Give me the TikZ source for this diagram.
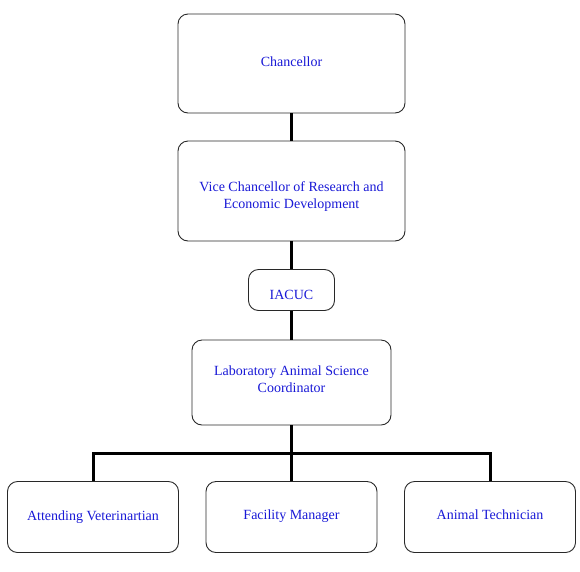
\documentclass[tikz,border=0pt]{standalone}
\usepackage{fontspec}
\setmainfont{Liberation Serif}
\definecolor{txtblue}{RGB}{25,25,215}
\definecolor{boxgray}{RGB}{40,40,40}
% shift the text of a box up by #1 (negative: down)
\newcommand{\liftup}[2]{\raisebox{0pt}[\dimexpr\height-#1\relax][\dimexpr\depth+#1\relax]{\begin{tabular}{@{}c@{}}#2\end{tabular}}}
\begin{document}
\begin{tikzpicture}[x=1pt,y=-1pt,
  orgbox/.style={draw=boxgray, line width=0.9pt, rounded corners=10pt, fill=white,
    text=txtblue, align=center, font=\fontsize{14}{17}\selectfont, inner sep=2pt},
  link/.style={line width=3pt, black}]
\useasboundingbox (0,0) rectangle (580,571);
\coordinate (busL) at (93.5,453);
\coordinate (busM) at (291.5,453);
\coordinate (busR) at (490.5,453);
\node[orgbox, minimum width=227pt, minimum height=99pt] (chan) at (291.5,63.5) {\liftup{0pt}{Chancellor}};
\node[orgbox, minimum width=227pt, minimum height=100pt] (vc) at (291.5,191) {\liftup{-5.5pt}{Vice Chancellor of Research and\\Economic Development}};
\node[orgbox, minimum width=86pt, minimum height=41pt] (iacuc) at (291.5,290) {\liftup{-7.5pt}{IACUC}};
\node[orgbox, minimum width=199pt, minimum height=85pt] (lasc) at (291.5,382.5)
  {\liftup{2pt}{Laboratory Animal Science\\Coordinator}};
\node[orgbox, minimum width=171pt, minimum height=71pt] (att) at (93,517) {\liftup{0pt}{Attending Veterinartian}};
\node[orgbox, minimum width=171pt, minimum height=71pt] (fac) at (291.5,517) {\liftup{0.5pt}{Facility Manager}};
\node[orgbox, minimum width=171pt, minimum height=71pt] (tech) at (490,517) {\liftup{0.5pt}{Animal Technician}};
\draw[link] (chan.south) -- (vc.north);
\draw[link] (vc.south) -- (iacuc.north);
\draw[link] (iacuc.south) -- (lasc.north);
\draw[link] (lasc.south) -- (busM);
\draw[link, line cap=rect] (busL) -- (busR);
\draw[link] (busL) -- (busL |- att.north);
\draw[link] (busM) -- (fac.north);
\draw[link] (busR) -- (busR |- tech.north);
\end{tikzpicture}
\end{document}
